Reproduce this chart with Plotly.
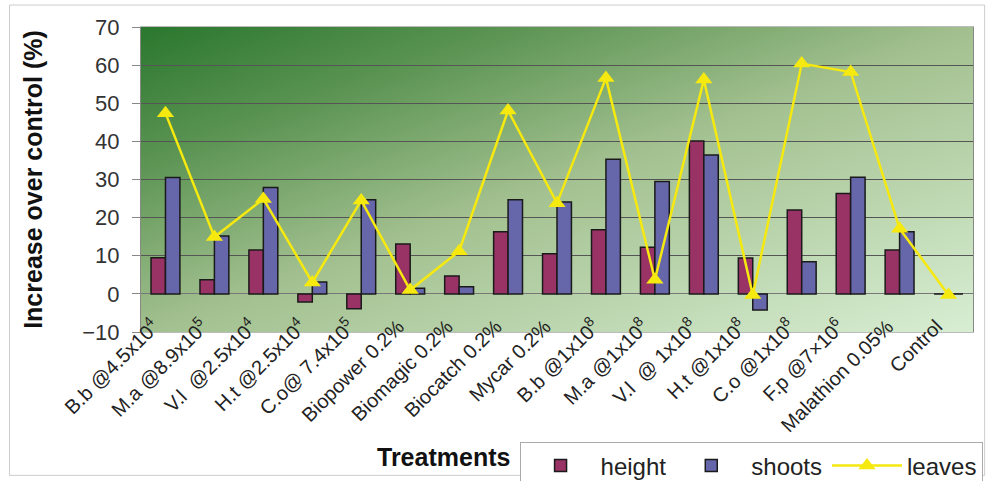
import base64
import plotly.graph_objects as go

categories = [
    "B.b @4.5x10<sup>4</sup>", "M.a @8.9x10<sup>5</sup>", "V.l  @2.5x10<sup>4</sup>",
    "H.t @2.5x10<sup>4</sup>", "C.o@ 7.4x10<sup>5</sup>", "Biopower 0.2%",
    "Biomagic 0.2%", "Biocatch 0.2%", "Mycar 0.2%", "B.b @1x10<sup>8</sup>",
    "M.a @1x10<sup>8</sup>", "V.l  @ 1x10<sup>8</sup>", "H.t @1x10<sup>8</sup>",
    "C.o @1x10<sup>8</sup>", "F.p @7×10<sup>6</sup>", "Malathion 0.05%", "Control",
]
height = [9.5, 3.7, 11.5, -2.1, -3.9, 13.1, 4.7, 16.3, 10.5, 16.8, 12.2, 40.1, 9.4, 22.0, 26.3, 11.5, 0]
shoots = [30.5, 15.2, 27.9, 3.1, 24.7, 1.5, 1.9, 24.7, 24.1, 35.3, 29.5, 36.4, -4.2, 8.4, 30.6, 16.3, 0]
leaves = [47.4, 14.9, 24.9, 3.0, 24.5, 1.0, 11.2, 48.1, 23.8, 56.6, 3.7, 56.2, -0.3, 60.4, 58.2, 17.1, -0.3]

FONT = "Liberation Sans, Arial, sans-serif"

svg = ('<svg xmlns="http://www.w3.org/2000/svg" width="200" height="100" viewBox="0 0 200 100" '
       'preserveAspectRatio="none"><defs><linearGradient id="g" x1="0" y1="0" x2="1" y2="1">'
       '<stop offset="0" stop-color="#2a772e"/><stop offset="0.22" stop-color="#5a9352"/>'
       '<stop offset="0.5" stop-color="#a2c08f"/>'
       '<stop offset="1" stop-color="#d8eed3"/></linearGradient></defs>'
       '<rect width="200" height="100" fill="url(#g)"/></svg>')
src = "data:image/svg+xml;base64," + base64.b64encode(svg.encode()).decode()

fig = go.Figure()
fig.add_trace(go.Bar(x=categories, y=height, name="height",
                     marker=dict(color="#993366", line=dict(color="#1a1a1a", width=1.5))))
fig.add_trace(go.Bar(x=categories, y=shoots, name="shoots",
                     marker=dict(color="#6666aa", line=dict(color="#1a1a1a", width=1.5))))
fig.add_trace(go.Scatter(x=categories, y=leaves, name="leaves", mode="lines+markers",
                         line=dict(color="#f5e90f", width=2.5),
                         marker=dict(symbol="triangle-up", size=15, color="#f5e90f")))

fig.update_layout(
    width=986, height=481,
    margin=dict(l=141, r=13, t=27, b=149, autoexpand=False),
    paper_bgcolor="white", plot_bgcolor="rgba(0,0,0,0)",
    font=dict(family=FONT, color="#222"),
    barmode="group", bargap=0.41, bargroupgap=0.0,
    images=[dict(source=src, xref="paper", yref="paper", x=0, y=1, sizex=1, sizey=1,
                 sizing="stretch", layer="below", xanchor="left", yanchor="top")],
    legend=dict(orientation="h", x=0.455, y=-0.362, xanchor="left", yanchor="top",
                font=dict(size=24, family=FONT, color="#222"), bgcolor="white",
                bordercolor="#aaaaaa", borderwidth=1, itemwidth=70, tracegroupgap=0),
    showlegend=True,
    annotations=[dict(text="<b>Treatments</b>", xref="paper", yref="paper", x=0.363, y=-0.41,
                      xanchor="center", yanchor="middle",
                      showarrow=False, font=dict(size=25, family=FONT, color="#111"))],
    shapes=[dict(type="rect", xref="paper", yref="paper",
                 x0=-0.158, x1=1.014, y0=-0.47, y1=1.072,
                 line=dict(color="#cccccc", width=1), layer="below")],
)
fig.update_yaxes(range=[-10, 70], dtick=10, showgrid=True, gridcolor="#555555", gridwidth=1,
                 zeroline=True, zerolinecolor="#777777", zerolinewidth=1,
                 ticks="outside", ticklen=8, tickcolor="#888888", ticklabelstandoff=8,
                 tickfont=dict(size=22, family=FONT, color="#333"),
                 showline=True, linecolor="#888888", mirror=True, automargin=False,
                 title=dict(text="<b>Increase over control (%)</b>", font=dict(size=25, family=FONT, color="#111"),
                            standoff=32))
fig.update_xaxes(range=[-0.5, len(categories) - 0.5], tickangle=-45,
                 tickfont=dict(size=20, family=FONT, color="#222"),
                 ticklabelshift=-12, ticklabelstandoff=-26,
                 showline=True, linecolor="#bbbbbb", mirror=True, ticks="", automargin=False)

fig.write_html("out.html")
